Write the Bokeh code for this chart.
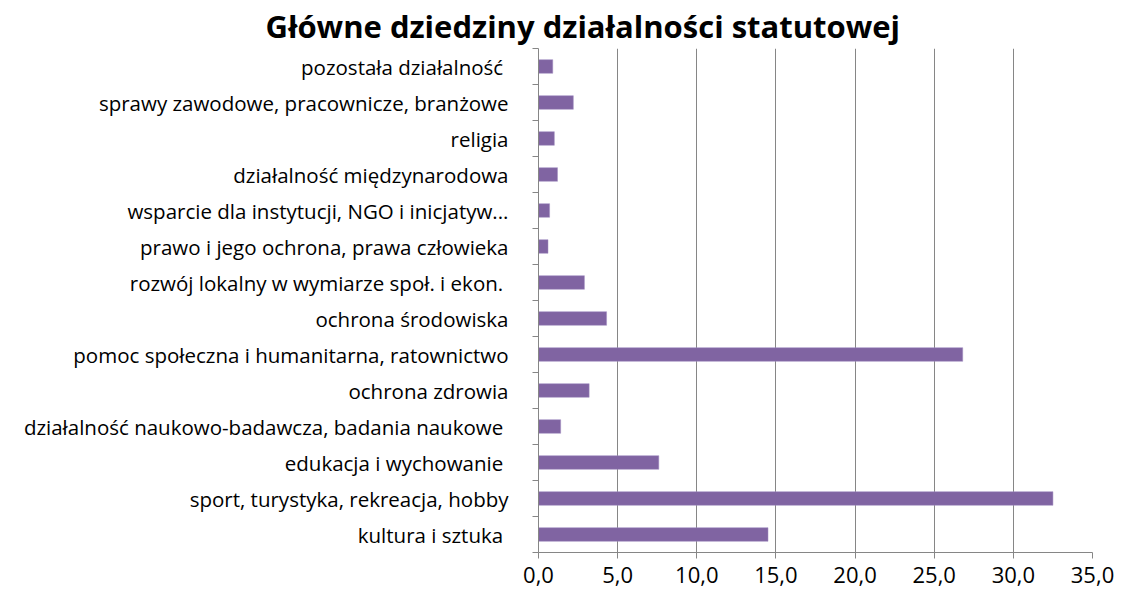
from bokeh.plotting import figure
from bokeh.models import FixedTicker, Title, Range1d
from bokeh.embed import file_html
from bokeh.resources import INLINE

categories = [
    "kultura i sztuka ",
    "sport, turystyka, rekreacja, hobby",
    "edukacja i wychowanie ",
    "działalność naukowo-badawcza, badania naukowe ",
    "ochrona zdrowia",
    "pomoc społeczna i humanitarna, ratownictwo",
    "ochrona środowiska",
    "rozwój lokalny w wymiarze społ. i ekon. ",
    "prawo i jego ochrona, prawa człowieka",
    "wsparcie dla instytucji, NGO i inicjatyw...",
    "działalność międzynarodowa",
    "religia",
    "sprawy zawodowe, pracownicze, branżowe",
    "pozostała działalność ",
]
values = [14.5, 32.5, 7.6, 1.4, 3.2, 26.8, 4.3, 2.9, 0.6, 0.7, 1.2, 1.0, 2.2, 0.9]
x_ticks = [0, 5, 10, 15, 20, 25, 30, 35]
x_tick_labels = ["0,0", "5,0", "10,0", "15,0", "20,0", "25,0", "30,0", "35,0"]
title_text = "Główne dziedziny działalności statutowej"

FONT = "Open Sans"
n = len(categories)
ypos = [i + 0.5 for i in range(n)]

p = figure(width=1116, height=590, output_backend="svg", toolbar_location=None,
           x_range=Range1d(0, 35), y_range=Range1d(0, n))
p.min_border_left = 538
p.min_border_right = 24
p.min_border_top = 45
p.min_border_bottom = 38
p.outline_line_color = None
p.background_fill_color = "white"
p.border_fill_color = "white"

t = Title(text=title_text, align="left", offset=-273,
          text_font=FONT, text_font_size="31px", text_font_style="bold",
          text_color="black", standoff=4)
p.add_layout(t, "above")

p.hbar(y=ypos, right=values, left=0, height=0.38, fill_color="#8064A2",
       line_color="#A08CC0", line_width=0.5)

# x axis
p.xaxis.ticker = FixedTicker(ticks=x_ticks)
p.xaxis.major_label_overrides = {k: v for k, v in zip(x_ticks, x_tick_labels)}
p.xaxis.axis_line_color = "#868686"
p.xaxis.major_tick_line_color = "#868686"
p.xaxis.major_tick_out = 6
p.xaxis.major_tick_in = 0
p.xaxis.minor_tick_line_color = None
p.xaxis.major_label_text_font = FONT
p.xaxis.major_label_text_font_size = "22px"
p.xaxis.major_label_text_color = "black"
p.xaxis.major_label_standoff = 8

# y axis
p.yaxis.ticker = FixedTicker(ticks=ypos, minor_ticks=list(range(n + 1)))
p.yaxis.major_label_overrides = {y: c for y, c in zip(ypos, categories)}
p.yaxis.axis_line_color = "#868686"
p.yaxis.major_tick_line_color = None
p.yaxis.minor_tick_line_color = "#868686"
p.yaxis.minor_tick_out = 6
p.yaxis.minor_tick_in = 0
p.yaxis.major_label_text_font = FONT
p.yaxis.major_label_text_font_size = "20.5px"
p.yaxis.major_label_text_color = "black"
p.yaxis.major_label_standoff = 24

p.xgrid.ticker = FixedTicker(ticks=x_ticks[1:])
p.xgrid.grid_line_color = "#868686"
p.xgrid.grid_line_width = 1
p.ygrid.grid_line_color = None

open("out.html", "w").write(file_html(p, INLINE))
